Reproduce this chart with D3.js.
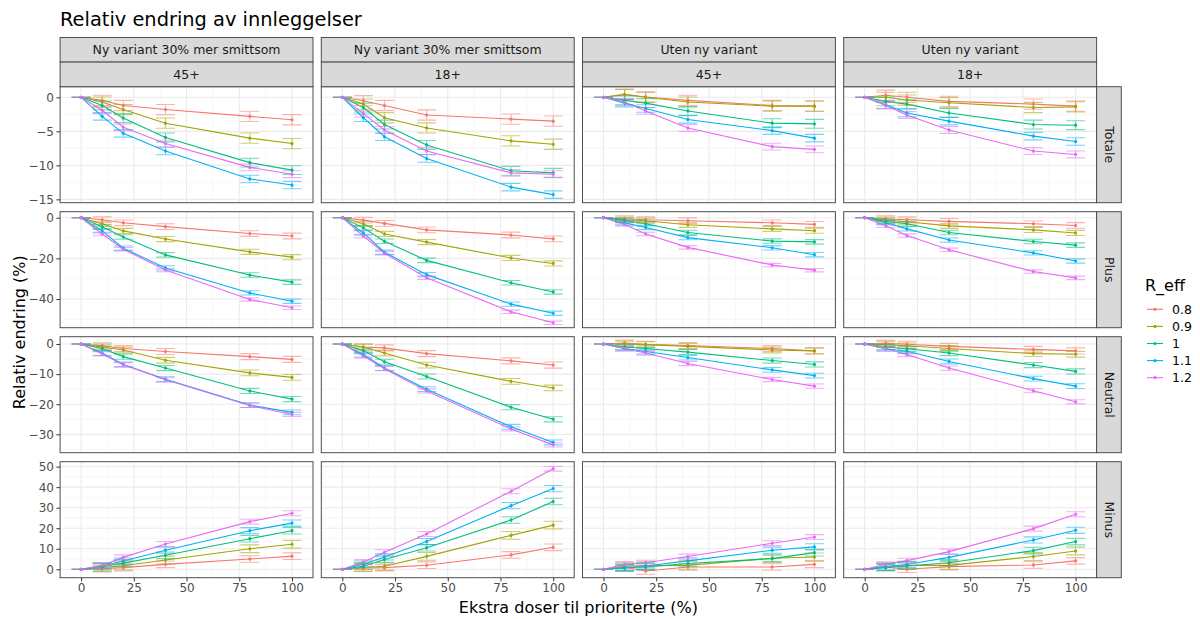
<!DOCTYPE html>
<html>
<head>
<meta charset="utf-8">
<script src="https://cdn.jsdelivr.net/npm/d3@7"></script>
<style>
  html, body { margin: 0; padding: 0; background: #ffffff; }
  svg { display: block; font-family: "DejaVu Sans", sans-serif; }
</style>
</head>
<body>
<svg id="chart" width="1200" height="619"></svg>
<script>
// ---- Data -------------------------------------------------------------
const doses = [0, 10, 20, 40, 80, 100];
const rEff = ["0.8", "0.9", "1", "1.1", "1.2"];
const variants = ["Ny variant 30% mer smittsom", "Ny variant 30% mer smittsom", "Uten ny variant", "Uten ny variant"];
const ages = ["45+", "18+", "45+", "18+"];
const outcomes = ["Totale", "Plus", "Neutral", "Minus"];

// Totale
const totaleNy45 = [
  [0, -0.45, -1.2, -1.8, -2.8, -3.3],
  [0, -0.7, -1.8, -3.8, -6.0, -6.8],
  [0, -1.2, -3.05, -5.9, -9.6, -10.7],
  [0, -2.8, -5.3, -7.9, -12.0, -12.9],
  [0, -1.9, -4.4, -6.8, -10.3, -11.3]
];
const totaleNy18 = [
  [0, -0.5, -1.2, -2.6, -3.2, -3.5],
  [0, -1.0, -3.0, -4.5, -6.4, -6.9],
  [0, -1.5, -4.0, -7.0, -10.8, -11.1],
  [0, -3.0, -5.8, -9.0, -13.2, -14.3],
  [0, -2.4, -4.8, -7.9, -11.1, -11.3]
];
const totaleUten45 = [
  [0, 0.45, 0.05, -0.45, -1.2, -1.3],
  [0, 0.4, 0.0, -0.7, -1.3, -1.3],
  [0, -0.45, -0.85, -2.0, -3.8, -3.9],
  [0, -0.85, -1.65, -3.25, -4.9, -6.0],
  [0, -0.7, -2.0, -4.5, -7.25, -7.65]
];
const totaleUten18 = [
  [0, 0.3, 0.0, -0.6, -1.0, -1.3],
  [0, 0.0, -0.4, -0.8, -1.5, -1.4],
  [0, -0.6, -1.0, -2.3, -4.0, -4.1],
  [0, -1.1, -2.3, -3.5, -5.7, -6.5],
  [0, -1.2, -2.6, -4.8, -7.9, -8.4]
];

// Plus
const plusNy45 = [
  [0, -1.0, -2.5, -4.4, -7.8, -9.0],
  [0, -3.0, -6.5, -10.5, -16.8, -19.4],
  [0, -4.5, -9.5, -18.3, -28.2, -31.7],
  [0, -6.5, -15.0, -24.7, -37.0, -41.1],
  [0, -8.0, -15.5, -25.7, -40.2, -44.3]
];
const plusNy18 = [
  [0, -1.2, -2.8, -6.0, -8.5, -10.4],
  [0, -3.0, -8.0, -12.0, -19.8, -22.5],
  [0, -5.0, -11.6, -21.0, -32.0, -36.5],
  [0, -7.5, -17.0, -28.0, -42.5, -47.0],
  [0, -9.0, -17.5, -29.5, -46.3, -51.7]
];
const plusUten45 = [
  [0, -0.5, -1.0, -1.5, -2.5, -3.3],
  [0, -1.0, -1.5, -3.5, -5.5, -6.4],
  [0, -1.3, -3.0, -7.3, -11.5, -11.9],
  [0, -2.5, -4.8, -9.8, -14.8, -18.2],
  [0, -3.3, -8.0, -14.6, -23.3, -25.8]
];
const plusUten18 = [
  [0, -0.5, -1.0, -1.8, -3.0, -3.8],
  [0, -1.0, -2.0, -4.0, -6.0, -7.5],
  [0, -1.8, -3.0, -7.3, -11.7, -13.5],
  [0, -2.5, -5.5, -11.0, -17.3, -21.3],
  [0, -4.0, -8.8, -15.8, -26.5, -29.6]
];

// Neutral
const neutralNy45 = [
  [0, -0.6, -1.5, -2.5, -4.2, -5.1],
  [0, -1.0, -2.0, -5.4, -9.6, -11.1],
  [0, -1.5, -4.2, -8.0, -15.6, -18.3],
  [0, -3.0, -6.8, -11.7, -20.3, -22.7],
  [0, -3.3, -6.9, -11.9, -20.4, -23.4]
];
const neutralNy18 = [
  [0, -1.0, -1.3, -3.2, -5.6, -7.0],
  [0, -1.0, -3.0, -7.0, -12.4, -14.6],
  [0, -2.2, -5.9, -10.8, -21.0, -25.0],
  [0, -3.5, -8.0, -15.0, -27.5, -32.7],
  [0, -4.0, -8.2, -15.6, -28.2, -33.5]
];
const neutralUten45 = [
  [0, 0.3, -0.1, -0.5, -1.5, -2.3],
  [0, 0.0, -0.2, -0.8, -2.0, -2.3],
  [0, -1.0, -1.5, -2.7, -5.5, -6.8],
  [0, -1.5, -2.5, -4.5, -8.6, -10.5],
  [0, -1.5, -3.0, -6.5, -11.8, -14.0]
];
const neutralUten18 = [
  [0, 0.2, -0.1, -0.8, -1.8, -2.3],
  [0, -0.2, -0.6, -1.5, -3.2, -3.4],
  [0, -1.0, -1.6, -3.0, -7.0, -9.1],
  [0, -1.6, -2.4, -5.8, -11.5, -14.0],
  [0, -1.5, -3.5, -8.0, -15.5, -19.2]
];

// Minus
const minusNy45 = [
  [0, 0.3, 0.8, 2.4, 5.0, 6.4],
  [0, 0.8, 1.7, 4.5, 10.0, 12.2],
  [0, 1.2, 3.0, 6.8, 14.9, 18.8],
  [0, 1.6, 4.0, 9.3, 18.8, 22.5],
  [0, 2.0, 5.8, 12.3, 23.2, 27.3]
];
const minusNy18 = [
  [0, 0.5, 0.8, 2.0, 7.0, 10.7],
  [0, 1.0, 1.5, 6.3, 16.5, 21.5],
  [0, 1.5, 4.8, 10.5, 24.0, 33.0],
  [0, 2.5, 6.0, 13.5, 31.0, 39.3],
  [0, 3.5, 8.3, 17.2, 38.0, 49.0]
];
const minusUten45 = [
  [0, 1.0, -0.8, 1.1, 1.1, 2.4],
  [0, 1.5, 1.8, 1.9, 5.4, 6.0],
  [0, 0.8, 1.1, 2.8, 5.2, 8.1],
  [0, 0.5, 1.6, 4.1, 9.3, 10.9],
  [0, 2.4, 3.2, 6.2, 12.7, 15.7]
];
const minusUten18 = [
  [0, 1.0, 0.0, 1.3, 2.1, 4.1],
  [0, 1.3, 2.0, 1.9, 6.2, 8.9],
  [0, 0.8, 1.6, 3.2, 9.1, 13.5],
  [0, 1.3, 2.3, 5.8, 14.3, 19.0],
  [0, 2.4, 4.2, 8.6, 19.8, 26.8]
];

// Half-width of the uncertainty interval, one per R_eff level and outcome row
const errTotale = [0.75, 0.75, 0.65, 0.55, 0.5];
const errPlus = [1.4, 1.25, 1.1, 1.05, 0.85];
const errNeutral = [1.0, 0.95, 0.85, 0.8, 0.7];
const errMinus = [1.6, 1.9, 1.6, 1.5, 1.2];

// Axis ticks and per-row limits
const xTicks = [0, 25, 50, 75, 100];
const xLimits = [-9.95, 109.95];
const yTicksTotale = [-15, -10, -5, 0];
const yTicksPlus = [-40, -20, 0];
const yTicksNeutral = [-30, -20, -10, 0];
const yTicksMinus = [0, 10, 20, 30, 40, 50];
const yLimitsTotale = [-15.49, 1.56];
const yLimitsPlus = [-54.1, 2.95];
const yLimitsNeutral = [-36.1, 2.42];
const yLimitsMinus = [-4.1, 52.4];

const panelValues = [
  [totaleNy45, totaleNy18, totaleUten45, totaleUten18],
  [plusNy45, plusNy18, plusUten45, plusUten18],
  [neutralNy45, neutralNy18, neutralUten45, neutralUten18],
  [minusNy45, minusNy18, minusUten45, minusUten18]
];
const rowErr = [errTotale, errPlus, errNeutral, errMinus];
const rowTicks = [yTicksTotale, yTicksPlus, yTicksNeutral, yTicksMinus];
const rowLimits = [yLimitsTotale, yLimitsPlus, yLimitsNeutral, yLimitsMinus];

// ---- Layout -----------------------------------------------------------
const colors = d3.scaleOrdinal().domain(rEff)
  .range(["#F8766D", "#A3A500", "#00BF7D", "#00B0F6", "#E76BF3"]);

const panelX0 = 60.1, colStep = 261.2, panelW = 252.9;
const panelY0 = 86.7, rowStep = 125, panelH = 116;
const stripH = 24.6, stripW = 24.7;
const capHalf = 4.5; // error bar cap half-width in data units

const svg = d3.select("#chart");

svg.append("text")
  .attr("x", 60).attr("y", 26)
  .attr("font-size", 19.4).attr("fill", "#000")
  .text("Relativ endring av innleggelser");

const x = d3.scaleLinear().domain(xLimits).range([0, panelW]);

function minorBetween(ticks, lim) {
  const out = [];
  const step = ticks[1] - ticks[0];
  const start = ticks[0] - step;
  for (let v = start; v <= ticks[ticks.length - 1] + step; v += step) {
    const m = v + step / 2;
    if (m > lim[0] && m < lim[1]) out.push(m);
  }
  return out;
}

const xMinor = minorBetween(xTicks, xLimits);

outcomes.forEach((outcome, r) => {
  const y = d3.scaleLinear().domain(rowLimits[r]).range([panelH, 0]);
  const yMinor = minorBetween(rowTicks[r], rowLimits[r]);

  ages.forEach((age, c) => {
    const g = svg.append("g")
      .attr("transform", `translate(${panelX0 + c * colStep},${panelY0 + r * rowStep})`);

    g.append("rect").attr("width", panelW).attr("height", panelH).attr("fill", "#fff");

    // grid
    const grid = g.append("g");
    grid.selectAll(".xmin").data(xMinor).join("line")
      .attr("x1", d => x(d)).attr("x2", d => x(d)).attr("y1", 0).attr("y2", panelH)
      .attr("stroke", "#F2F2F2").attr("stroke-width", 0.6);
    grid.selectAll(".ymin").data(yMinor).join("line")
      .attr("y1", d => y(d)).attr("y2", d => y(d)).attr("x1", 0).attr("x2", panelW)
      .attr("stroke", "#F2F2F2").attr("stroke-width", 0.6);
    grid.selectAll(".xmaj").data(xTicks).join("line")
      .attr("x1", d => x(d)).attr("x2", d => x(d)).attr("y1", 0).attr("y2", panelH)
      .attr("stroke", "#EBEBEB").attr("stroke-width", 1.1);
    grid.selectAll(".ymaj").data(rowTicks[r]).join("line")
      .attr("y1", d => y(d)).attr("y2", d => y(d)).attr("x1", 0).attr("x2", panelW)
      .attr("stroke", "#EBEBEB").attr("stroke-width", 1.1);

    const series = rEff.map((lvl, i) => ({
      lvl,
      err: rowErr[r][i],
      pts: doses.map((d, k) => ({ x: d, y: panelValues[r][c][i][k] }))
    }));

    const line = d3.line().x(d => x(d.x)).y(d => y(d.y));

    g.selectAll(".series").data(series).join("path")
      .attr("d", s => line(s.pts))
      .attr("fill", "none")
      .attr("stroke", s => colors(s.lvl))
      .attr("stroke-width", 1.1);

    // error bars (zero height at the starting dose)
    series.forEach(s => {
      const eb = g.append("g")
        .attr("stroke", colors(s.lvl))
        .attr("stroke-opacity", 0.55)
        .attr("stroke-width", 1.1)
        .attr("fill", "none");
      s.pts.forEach(p => {
        const e = p.x === 0 ? 0 : s.err;
        const lo = y(p.y - e), hi = y(p.y + e);
        eb.append("path")
          .attr("d", `M${x(p.x - capHalf)},${hi}H${x(p.x + capHalf)}` +
                     `M${x(p.x)},${hi}V${lo}` +
                     `M${x(p.x - capHalf)},${lo}H${x(p.x + capHalf)}`);
      });
    });

    series.forEach(s => {
      g.selectAll(null).data(s.pts).join("circle")
        .attr("cx", d => x(d.x)).attr("cy", d => y(d.y))
        .attr("r", 1.6).attr("fill", colors(s.lvl));
    });

    g.append("rect").attr("width", panelW).attr("height", panelH)
      .attr("fill", "none").attr("stroke", "#4d4d4d").attr("stroke-width", 1);

    // y axis on the first column
    if (c === 0) {
      const ax = g.append("g").call(d3.axisLeft(y).tickValues(rowTicks[r]).tickSize(3.7).tickPadding(2.5));
      ax.select(".domain").remove();
      ax.selectAll("line").attr("stroke", "#333");
      ax.selectAll("text").attr("font-size", 12).attr("fill", "#4D4D4D")
        .attr("font-family", "DejaVu Sans, sans-serif");
    }
    // x axis on the bottom row
    if (r === outcomes.length - 1) {
      const ax = g.append("g").attr("transform", `translate(0,${panelH})`)
        .call(d3.axisBottom(x).tickValues(xTicks).tickSize(3.7).tickPadding(2.5));
      ax.select(".domain").remove();
      ax.selectAll("line").attr("stroke", "#333");
      ax.selectAll("text").attr("font-size", 12).attr("fill", "#4D4D4D")
        .attr("font-family", "DejaVu Sans, sans-serif");
    }
  });

  // right-hand strip for the outcome
  const sx = panelX0 + (ages.length - 1) * colStep + panelW;
  const sy = panelY0 + r * rowStep;
  svg.append("rect").attr("x", sx).attr("y", sy).attr("width", stripW).attr("height", panelH)
    .attr("fill", "#D9D9D9").attr("stroke", "#4d4d4d").attr("stroke-width", 1);
  svg.append("text")
    .attr("transform", `translate(${sx + stripW / 2},${sy + panelH / 2}) rotate(90)`)
    .attr("text-anchor", "middle").attr("dy", "0.35em")
    .attr("font-size", 12.5).attr("fill", "#1A1A1A")
    .text(outcome);
});

// top strips: variant and age group
ages.forEach((age, c) => {
  const sx = panelX0 + c * colStep;
  [variants[c], age].forEach((label, k) => {
    const sy = panelY0 - 2 * stripH + k * stripH;
    svg.append("rect").attr("x", sx).attr("y", sy).attr("width", panelW).attr("height", stripH)
      .attr("fill", "#D9D9D9").attr("stroke", "#4d4d4d").attr("stroke-width", 1);
    svg.append("text").attr("x", sx + panelW / 2).attr("y", sy + stripH / 2)
      .attr("text-anchor", "middle").attr("dy", "0.35em")
      .attr("font-size", 12.5).attr("fill", "#1A1A1A")
      .text(label);
  });
});

// axis titles
const plotMidX = panelX0 + ((ages.length - 1) * colStep + panelW) / 2;
const plotMidY = panelY0 + ((outcomes.length - 1) * rowStep + panelH) / 2;
svg.append("text").attr("x", plotMidX).attr("y", 613)
  .attr("text-anchor", "middle").attr("font-size", 16).attr("fill", "#000")
  .text("Ekstra doser til prioriterte (%)");
svg.append("text")
  .attr("transform", `translate(25,${plotMidY}) rotate(-90)`)
  .attr("text-anchor", "middle").attr("font-size", 16).attr("fill", "#000")
  .text("Relativ endring (%)");

// legend
const lg = svg.append("g").attr("transform", "translate(1145,0)");
lg.append("text").attr("x", 0).attr("y", 290.5).attr("font-size", 16).attr("fill", "#000").text("R_eff");
rEff.forEach((lvl, i) => {
  const cy = 309.3 + i * 17.1;
  lg.append("line").attr("x1", 2).attr("x2", 18).attr("y1", cy).attr("y2", cy)
    .attr("stroke", colors(lvl)).attr("stroke-width", 1.1);
  lg.append("circle").attr("cx", 10).attr("cy", cy).attr("r", 1.6).attr("fill", colors(lvl));
  lg.append("text").attr("x", 27).attr("y", cy).attr("dy", "0.35em")
    .attr("font-size", 12.5).attr("fill", "#000").text(lvl);
});
</script>
</body>
</html>
